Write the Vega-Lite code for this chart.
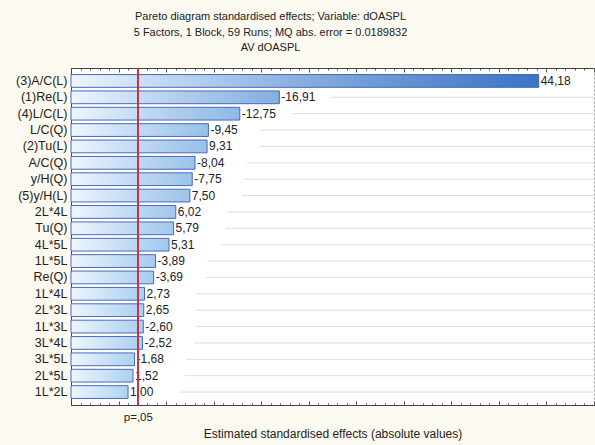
{
  "$schema": "https://vega.github.io/schema/vega-lite/v6.json",
  "width": 523,
  "height": 337,
  "autosize": {"type": "none"},
  "padding": {"left": 71, "top": 68, "right": 1, "bottom": 40},
  "background": "#fcf9f0",
  "title": {
    "text": [
      "Pareto diagram standardised effects; Variable: dOASPL",
      "5 Factors, 1 Block, 59 Runs; MQ abs. error = 0.0189832",
      "AV dOASPL"
    ],
    "font": "Liberation Sans",
    "fontSize": 11,
    "fontWeight": "normal",
    "color": "#222222",
    "lineHeight": 15.5,
    "anchor": "middle",
    "frame": "group",
    "dx": -62,
    "offset": 14
  },
  "data": {
    "values": [
      {"factor": "(3)A/C(L)", "effect": 44.18, "size": 44.18},
      {"factor": "(1)Re(L)", "effect": -16.91, "size": 16.91},
      {"factor": "(4)L/C(L)", "effect": -12.75, "size": 12.75},
      {"factor": "L/C(Q)", "effect": -9.45, "size": 9.45},
      {"factor": "(2)Tu(L)", "effect": 9.31, "size": 9.31},
      {"factor": "A/C(Q)", "effect": -8.04, "size": 8.04},
      {"factor": "y/H(Q)", "effect": -7.75, "size": 7.75},
      {"factor": "(5)y/H(L)", "effect": 7.5, "size": 7.5},
      {"factor": "2L*4L", "effect": 6.02, "size": 6.02},
      {"factor": "Tu(Q)", "effect": 5.79, "size": 5.79},
      {"factor": "4L*5L", "effect": 5.31, "size": 5.31},
      {"factor": "1L*5L", "effect": -3.89, "size": 3.89},
      {"factor": "Re(Q)", "effect": -3.69, "size": 3.69},
      {"factor": "1L*4L", "effect": 2.73, "size": 2.73},
      {"factor": "2L*3L", "effect": 2.65, "size": 2.65},
      {"factor": "1L*3L", "effect": -2.6, "size": 2.6},
      {"factor": "3L*4L", "effect": -2.52, "size": 2.52},
      {"factor": "3L*5L", "effect": -1.68, "size": 1.68},
      {"factor": "2L*5L", "effect": 1.52, "size": 1.52},
      {"factor": "1L*2L", "effect": 1.0, "size": 1.0}
    ]
  },
  "resolve": {"axis": {"x": "independent"}},
  "layer": [
    {
      "mark": {"type": "rule", "color": "#dddddd", "strokeWidth": 1, "xOffset": 52},
      "encoding": {
        "y": {"field": "factor", "type": "nominal", "sort": null},
        "x": {"field": "size", "type": "quantitative", "axis": null},
        "x2": {"datum": 50},
        "strokeOpacity": {"condition": {"test": "datum.size >= 40", "value": 0}, "value": 1}
      }
    },
    {
      "mark": {
        "type": "bar",
        "stroke": "#4a69bd",
        "strokeWidth": 1,
        "color": {
          "gradient": "linear",
          "x1": 0, "y1": 0, "x2": 1, "y2": 0,
          "stops": [
            {"offset": 0, "color": "#eef6fd"},
            {"offset": 1, "color": "#b0d4f3"}
          ]
        }
      },
      "encoding": {
        "y": {
          "field": "factor",
          "type": "nominal",
          "sort": null,
          "scale": {"paddingInner": 0.22, "paddingOuter": 0.4},
          "axis": {
            "title": null,
            "ticks": false,
            "labelPadding": 4,
            "labelFont": "Liberation Sans",
            "labelFontSize": 12.5,
            "labelColor": "#222222",
            "domainColor": "#444444",
            "grid": false
          }
        },
        "x": {
          "field": "size",
          "type": "quantitative",
          "scale": {"domain": [-5, 50], "nice": false, "zero": false},
          "axis": {
            "orient": "bottom",
            "title": "Estimated standardised effects (absolute values)",
            "titleFont": "Liberation Sans",
            "titleFontSize": 12,
            "titleFontWeight": "normal",
            "titleColor": "#222222",
            "titlePadding": 6,
            "values": [-5, -4, -3, -2, -1, 0, 1, 2, 2.03, 3, 4, 5, 6, 7, 8, 9, 10, 11, 12, 13, 14, 15, 16, 17, 18, 19, 20, 21, 22, 23, 24, 25, 26, 27, 28, 29, 30, 31, 32, 33, 34, 35, 36, 37, 38, 39, 40, 41, 42, 43, 44, 45, 46, 47, 48, 49, 50],
            "labelExpr": "datum.value === 2.03 ? 'p=,05' : ''",
            "labelFont": "Liberation Sans",
            "labelFontSize": 11.5,
            "labelColor": "#222222",
            "labelPadding": 8,
            "labelFlush": false,
            "labelOverlap": false,
            "domainColor": "#444444",
            "tickColor": "#555555",
            "tickSize": {"condition": {"test": "datum.value % 5 === 0", "value": -4}, "value": -2},
            "tickOpacity": {"condition": {"test": "datum.value === 2.03", "value": 0}, "value": 1},
            "grid": false
          }
        },
        "x2": {"datum": -5}
      }
    },
    {
      "mark": {
        "type": "bar",
        "color": {
          "gradient": "linear",
          "x1": 0, "y1": 0, "x2": 1, "y2": 0,
          "stops": [
            {"offset": 0, "color": "rgba(46,103,189,0)"},
            {"offset": 1, "color": "rgba(46,103,189,1)"}
          ]
        }
      },
      "encoding": {
        "y": {"field": "factor", "type": "nominal", "sort": null},
        "x": {"field": "size", "type": "quantitative", "axis": null},
        "x2": {"datum": -5},
        "opacity": {
          "field": "size",
          "type": "quantitative",
          "scale": {"domain": [0, 45], "range": [0, 0.9]},
          "legend": null
        }
      }
    },
    {
      "mark": {
        "type": "text",
        "align": "left",
        "baseline": "middle",
        "dx": 2,
        "font": "Liberation Sans",
        "fontSize": 12,
        "color": "#222222"
      },
      "encoding": {
        "y": {"field": "factor", "type": "nominal", "sort": null},
        "x": {"field": "size", "type": "quantitative", "axis": null},
        "text": {"field": "effect", "type": "quantitative", "format": ".2f"}
      }
    },
    {
      "mark": {"type": "rule", "color": "#cc3344", "strokeWidth": 1.2},
      "encoding": {
        "x": {
          "datum": 2.03,
          "type": "quantitative",
          "axis": {
            "orient": "top",
            "title": null,
            "labels": false,
            "values": [-5, -4, -3, -2, -1, 0, 1, 2, 3, 4, 5, 6, 7, 8, 9, 10, 11, 12, 13, 14, 15, 16, 17, 18, 19, 20, 21, 22, 23, 24, 25, 26, 27, 28, 29, 30, 31, 32, 33, 34, 35, 36, 37, 38, 39, 40, 41, 42, 43, 44, 45, 46, 47, 48, 49, 50],
            "domainColor": "#444444",
            "tickColor": "#555555",
            "tickSize": {"condition": {"test": "datum.value % 5 === 0", "value": -4}, "value": -2},
            "grid": false
          }
        }
      }
    }
  ],
  "config": {
    "locale": {
      "number": {
        "decimal": ",",
        "thousands": ".",
        "grouping": [3],
        "currency": ["", ""],
        "minus": "-"
      }
    },
    "view": {"fill": "#ffffff", "stroke": "#999999", "strokeDash": [2, 2]}
  }
}
